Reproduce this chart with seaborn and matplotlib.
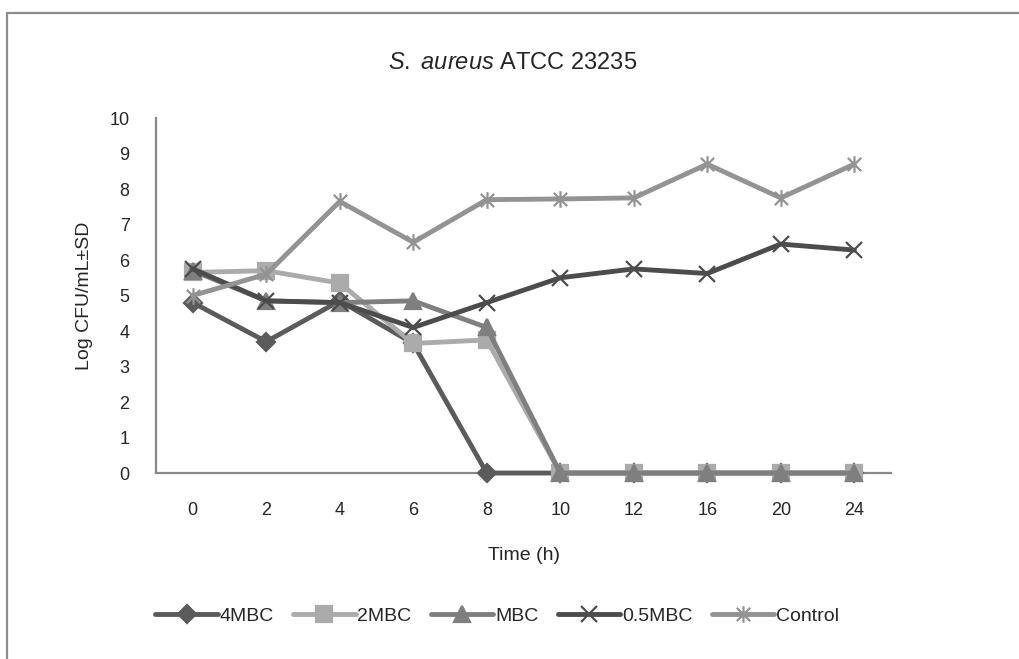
import matplotlib
matplotlib.use("Agg")
import matplotlib.pyplot as plt
import seaborn as sns
import numpy as np
import pandas as pd
from matplotlib.path import Path
from matplotlib.lines import Line2D

times = ["0", "2", "4", "6", "8", "10", "12", "16", "20", "24"]
series_names = ["4MBC", "2MBC", "MBC", "0.5MBC", "Control"]
mbc4 = [4.8, 3.7, 4.85, 3.65, 0, 0, 0, 0, 0, 0]
mbc2 = [5.65, 5.7, 5.35, 3.65, 3.75, 0, 0, 0, 0, 0]
mbc1 = [5.7, 4.85, 4.8, 4.85, 4.1, 0, 0, 0, 0, 0]
mbc05 = [5.75, 4.85, 4.8, 4.1, 4.8, 5.5, 5.75, 5.62, 6.45, 6.28]
control = [5.0, 5.6, 7.65, 6.5, 7.7, 7.72, 7.75, 8.7, 7.75, 8.7]

sns.set_style("white")
plt.rcParams["font.family"] = ["Liberation Sans", "DejaVu Sans"]
plt.rcParams["mathtext.fontset"] = "custom"
plt.rcParams["mathtext.rm"] = "Liberation Sans"
plt.rcParams["mathtext.it"] = "Liberation Sans:italic"

# Excel-like star marker: x with a vertical bar
star = Path([(-1, -1), (1, 1), (-1, 1), (1, -1), (0, -1.25), (0, 1.25)],
            [Path.MOVETO, Path.LINETO, Path.MOVETO, Path.LINETO, Path.MOVETO, Path.LINETO])

styles = {
    "4MBC": dict(color="#5b5b5b", marker="D", ms=9),
    "2MBC": dict(color="#ababab", marker="s", ms=11),
    "MBC": dict(color="#7f7f7f", marker="^", ms=12),
    "0.5MBC": dict(color="#4c4c4c", marker="x", ms=12),
    "Control": dict(color="#939393", marker=star, ms=12),
}

values = [mbc4, mbc2, mbc1, mbc05, control]
pos = np.arange(len(times))

fig = plt.figure(figsize=(10.19, 6.59), dpi=100)
ax = fig.add_axes([0.1531, 0.2822, 0.7213, 0.5387])

for name, vals in zip(series_names, values):
    st = styles[name]
    df = pd.DataFrame({"pos": pos, "val": vals})
    sns.lineplot(data=df, x="pos", y="val", ax=ax, color=st["color"], lw=3.5,
                 marker=st["marker"], markersize=st["ms"], markeredgewidth=1.6,
                 markeredgecolor=st["color"], markerfacecolor=st["color"],
                 label=name, legend=False)

ax.set_xlim(-0.5, len(times) - 0.5)
ax.set_ylim(0, 10)
ax.set_yticks(range(0, 11))
ax.set_xticks(pos)
ax.set_xticklabels(times)
ax.set_xticks(np.arange(-0.5, len(times), 1), minor=True)
ax.tick_params(axis="x", which="major", length=0, pad=21, labelsize=13)
ax.tick_params(axis="x", which="minor", direction="in", length=7, width=1.3, color="#898989")
ax.tick_params(axis="y", direction="in", length=7, width=1.3, color="#898989",
               pad=19, labelsize=13)
for side in ["top", "right"]:
    ax.spines[side].set_visible(False)
for side in ["left", "bottom"]:
    ax.spines[side].set_color("#898989")
    ax.spines[side].set_linewidth(1.6)
ax.spines["bottom"].set_zorder(0)
for l in ax.lines:
    l.set_clip_on(False)

ax.set_xlabel("Time (h)", fontsize=14, labelpad=20)
ax.set_ylabel("Log CFU/mL±SD", fontsize=14, labelpad=12)
fig.text(0.503, 0.905, r"$\mathit{S.\ aureus}$ ATCC 23235", ha="center", va="center", fontsize=17)

handles = [Line2D([], [], color=styles[n]["color"], lw=3.5, marker=styles[n]["marker"],
                  markersize=styles[n]["ms"], markeredgewidth=1.6,
                  markeredgecolor=styles[n]["color"], markerfacecolor=styles[n]["color"])
           for n in series_names]
fig.legend(handles, series_names, loc="center", bbox_to_anchor=(0.488, 0.065), ncol=5,
           frameon=False, fontsize=14, handlelength=3.2, handletextpad=0.1,
           columnspacing=1.0)

# outer chart frame (cropped at right and bottom)
fig.add_artist(Line2D([0.0069, 1.0], [0.980, 0.980], transform=fig.transFigure,
                      color="#8c8c8c", lw=1.6))
fig.add_artist(Line2D([0.0069, 0.0069], [0.0, 0.980], transform=fig.transFigure,
                      color="#8c8c8c", lw=1.6))

fig.savefig("out.png", dpi=100)
